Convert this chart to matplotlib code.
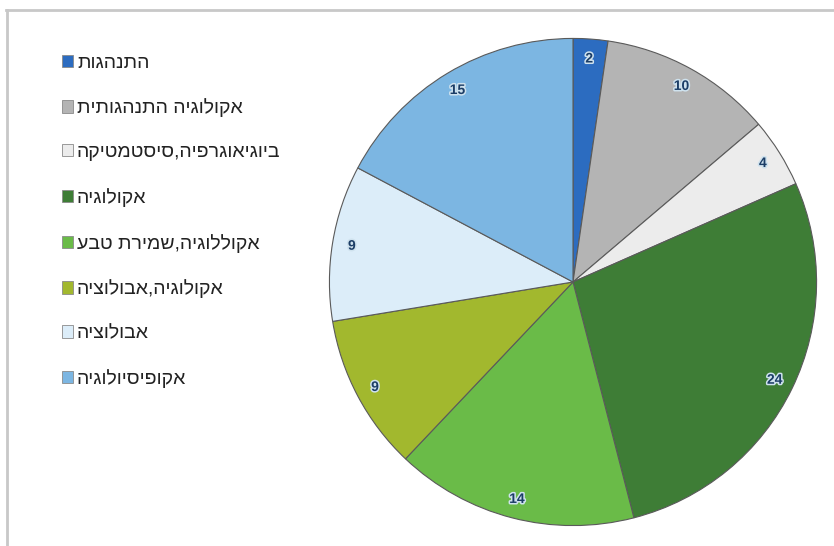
import matplotlib
matplotlib.use("Agg")
import matplotlib.pyplot as plt
import matplotlib.patheffects as pe
from matplotlib.lines import Line2D

plt.rcParams['font.family'] = ['Liberation Sans', 'DejaVu Sans']

# Research topics (Hebrew, logical order) and their counts
categories = [
    "התנהגות",
    "אקולוגיה התנהגותית",
    "ביוגיאוגרפיה,סיסטמטיקה",
    "אקולוגיה",
    "אקוללוגיה,שמירת טבע",
    "אקולוגיה,אבולוציה",
    "אבולוציה",
    "אקופיסיולוגיה",
]
values = [2, 10, 4, 24, 14, 9, 9, 15]
colors = ["#2c6cc0", "#b4b4b4", "#ececec", "#3e7d36",
          "#6abb48", "#a2b82e", "#dcedf9", "#7cb6e2"]


def visual_order(text):
    # matplotlib lays text out left-to-right; reverse Hebrew for display
    return text[::-1]


W, H = 834, 546
fig = plt.figure(figsize=(W / 100, H / 100), dpi=100)
fig.patch.set_facecolor("white")

# chart-area frame (top and left edges)
fig.add_artist(Line2D([6 / W, 1], [1 - 10 / H, 1 - 10 / H],
                      color="#c8c8c8", lw=2, transform=fig.transFigure))
fig.add_artist(Line2D([7 / W, 7 / W], [0, 1 - 10 / H],
                      color="#c8c8c8", lw=2, transform=fig.transFigure))

cx, cy, r = 573, 282, 246
ax = fig.add_axes([(cx - r) / W, (H - cy - r) / H, 2 * r / W, 2 * r / H])
ax.set_aspect("equal")

total = sum(values)
wedges, _, autotexts = ax.pie(
    values,
    colors=colors,
    startangle=90,
    counterclock=False,
    radius=1.0,
    autopct=lambda p: f"{round(p * total / 100):d}",
    pctdistance=0.92,
    wedgeprops=dict(edgecolor="#5a5a5a", linewidth=0.8),
    textprops=dict(color="#1b3d66", fontsize=10, fontweight="bold"),
)
for t in autotexts:
    t.set_path_effects([pe.withStroke(linewidth=2.2, foreground="#cfe2ee")])
ax.set_xlim(-1.01, 1.01)
ax.set_ylim(-1.01, 1.01)
ax.axis("off")

leg = fig.legend(
    wedges,
    [visual_order(c) for c in categories],
    loc="upper left",
    bbox_to_anchor=(44 / W, 1 - 37 / H),
    frameon=False,
    fontsize=14,
    handlelength=0.6,
    handleheight=0.6,
    handletextpad=0.2,
    labelspacing=1.38,
)
for h in leg.legend_handles:
    h.set_edgecolor("#8a8a8a")
    h.set_linewidth(0.6)
for t in leg.get_texts():
    t.set_color("#222222")

fig.savefig("out.png", dpi=100, facecolor="white")
